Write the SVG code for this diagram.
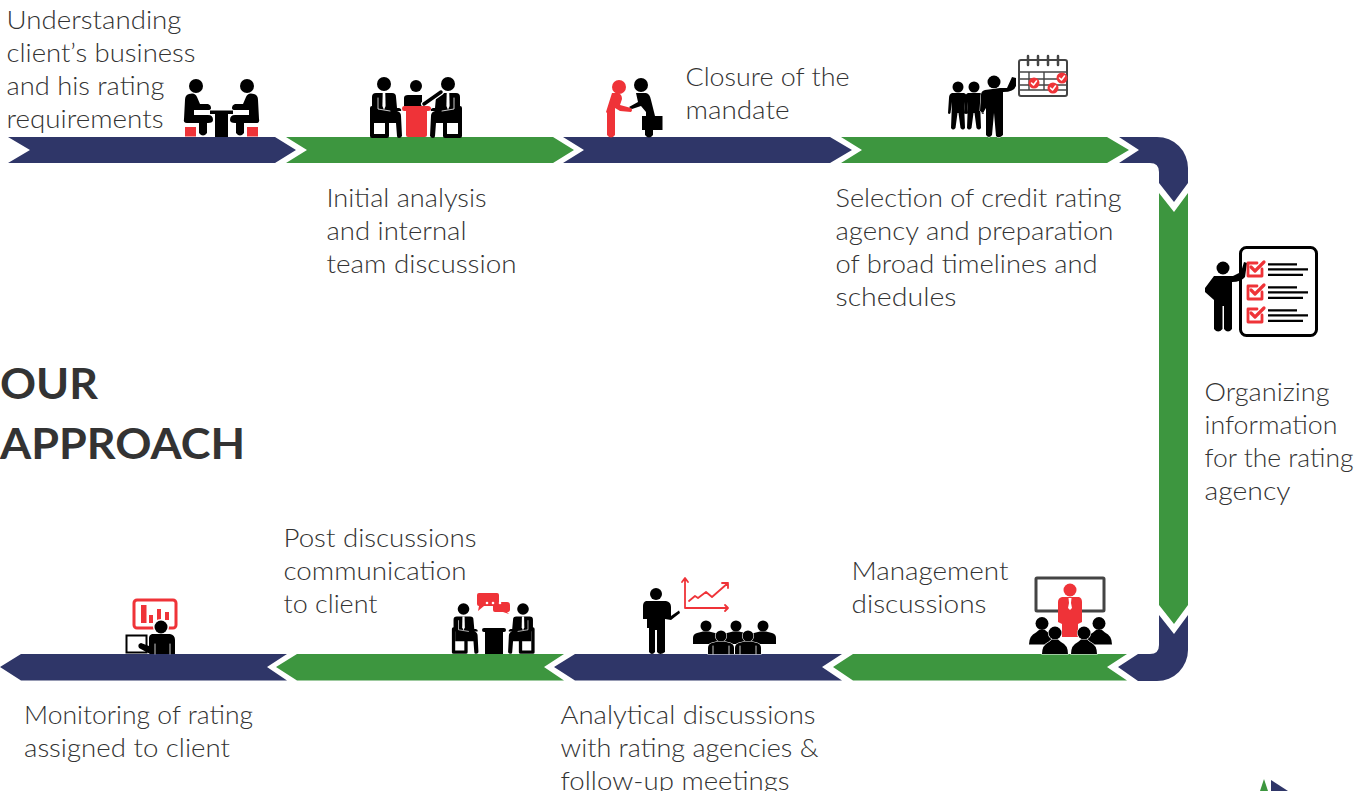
<svg xmlns="http://www.w3.org/2000/svg" xmlns:xlink="http://www.w3.org/1999/xlink" width="1368" height="791" viewBox="0 0 1368 791">
<style>
.n{fill:#2f3668}.g{fill:#3d963f}.r{fill:#ef3338}.k{fill:#000}.w{fill:#fff}
.sk{stroke:#000;fill:none;stroke-linecap:round;stroke-linejoin:round}
.sr{stroke:#ef3338;fill:none;stroke-linecap:round;stroke-linejoin:round}
.sw{stroke:#fff;fill:none;stroke-linecap:round;stroke-linejoin:round}
.o{stroke:#fff;stroke-width:1.200;paint-order:stroke}
text{font-family:"Lato","Open Sans","Liberation Sans",sans-serif;font-size:25px;font-weight:300;fill:#333}
.h{font-size:42px;font-weight:700;fill:#333}
</style>
<defs>
<g id="sit">
<circle cx="0" cy="0" r="7"/>
<path d="M-12 13Q-12 9-8 9H8Q12 9 12 13L13 24H15Q18 25 17 27L12 27H13Q17 28 17 32L18 52Q17 54 15 54Q13 54 13 52L12 39H-10V27Q-12 27-12 24Z"/>
<path class="sk" d="M-12 24V52H3V39" stroke-width="4"/>
<path class="w" d="M-1.300 9H1.300L1.600 22 0 26-1.600 22Z"/>
<path class="sw" d="M-6 14V25L6 27" stroke-width="0.800"/>
</g>
<g id="aud">
<circle cx="0" cy="0" r="6.500"/>
<path d="M-13 21Q-13 12-6 9L-3 6.500H3L6 9Q13 12 13 21Z"/>
</g>
<g id="aud2">
<circle cx="0" cy="0" r="5.500"/>
<path d="M-13 18V12Q-13 8-9 7L-3 5.500H3L9 7Q13 8 13 12V18Z"/>
</g>
<g id="st">
<circle cx="0" cy="0" r="5.500"/>
<path d="M-6 6H6Q9 7 9 11L10 26Q9 28 7.500 26L6 15 7 41Q5 44 2.500 41L0.500 26H-0.500L-2.500 41Q-5 44-7 41L-6 15-7.500 26Q-9 28-10 26L-9 11Q-9 7-6 6Z"/>
</g>
<g id="chk">
<path class="sr" d="M-7 -6H2M-7 -6V7H7V0" stroke-width="2.800"/>
<path class="sr" d="M-4 -2L0 2 9 -7" stroke-width="3.200"/>
<path class="k" d="M13 -5.800H42V-3.600H13ZM13 -0.800H53V1.400H13ZM13 4.800H48V7H13Z"/>
</g>
<g id="badge">
<circle r="5.500" class="r"/>
<path class="sw" d="M-2.500 0L-0.500 2 2.500 -2" stroke-width="1.600"/>
</g>
<path id="diner" d="M189 94Q195 92 197 97L200 104H208Q211 105 211 108Q211 110 208 110H194V115H208Q213 115 213 120Q213 123 208 123H207V133Q203 138 199 133V123H187Q183 123 184 119L185 100Q185 95 189 94Z"/>
</defs>

<g id="connectors">
<path class="n" d="M8 137H275L296 150 275 163H8L30 150Z"/>
<path class="g" d="M286 137H553L574 150 553 163H286L307 150Z"/>
<path class="n" d="M563 137H830L852 150 830 163H563L584 150Z"/>
<path class="g" d="M841 137H1107L1129 150 1107 163H841L862 150Z"/>
<path class="n" d="M1119 137H1157A31 31 0 0 1 1188 168V183L1174 202 1159 183V172Q1159 163 1150 163H1119L1139 150Z"/>
<path class="g" d="M1159 193L1174 212 1188 193V605L1174 624 1159 605Z"/>
<path class="n" d="M1159 615L1174 634 1188 615V650A31 31 0 0 1 1157 681H1138L1118 667 1138 654H1150Q1159 654 1159 645Z"/>
<path class="g" d="M1127 654L1107 667 1127 680.500H853L833 667 853 654Z"/>
<path class="n" d="M842 654L822 667 842 680.500H575L554 667 575 654Z"/>
<path class="g" d="M564 654L544 667 564 680.500H297L276 667 297 654Z"/>
<path class="n" d="M287 654L267 667 287 680.500H21L0 667 21 654Z"/>
<path class="g" d="M1264 779L1268 791H1260Z"/>
<path class="n" d="M1271 780L1288 791H1271Z"/>
</g>

<g id="step-1">
<circle cx="196" cy="86" r="7"/><circle cx="247" cy="86" r="7"/>
<use xlink:href="#diner" href="#diner"/>
<use xlink:href="#diner" href="#diner" transform="translate(443 0) scale(-1 1)"/>
<path d="M210 110.500H233V114H228V137H215V114H210Z"/>
<rect class="r" x="185" y="127" width="11" height="9.500"/><rect class="r" x="247" y="127" width="11" height="9.500"/>
<text x="6.500" y="29" textLength="175" lengthAdjust="spacingAndGlyphs">Understanding</text>
<text x="6.500" y="62" textLength="189" lengthAdjust="spacingAndGlyphs">client’s business</text>
<text x="6.500" y="95" textLength="158" lengthAdjust="spacingAndGlyphs">and his rating</text>
<text x="6.500" y="128" textLength="157" lengthAdjust="spacingAndGlyphs">requirements</text>
</g>

<g id="step-2">
<use xlink:href="#sit" href="#sit" x="384" y="84"/>
<use xlink:href="#sit" href="#sit" transform="translate(448 84) scale(-1 1)"/>
<circle cx="416" cy="86" r="6"/>
<path d="M404 106V98Q404 95 408 95H422V106Z"/>
<path d="M424 104L441 92" stroke="#fff" stroke-width="6" stroke-linecap="round"/>
<path d="M424 104L441 92" stroke="#000" stroke-width="3.500" stroke-linecap="round"/>
<path class="r" d="M404 106H428Q431 106 431 108.500Q431 111 428 111H427V135Q427 137 425 137H408Q406 137 406 135V111H404Q402 111 402 108.500Q402 106 404 106Z"/>
<text x="326.500" y="207" textLength="160" lengthAdjust="spacingAndGlyphs">Initial analysis</text>
<text x="326.500" y="240" textLength="140" lengthAdjust="spacingAndGlyphs">and internal</text>
<text x="326.500" y="273" textLength="190" lengthAdjust="spacingAndGlyphs">team discussion</text>
</g>

<g id="step-3">
<circle class="r" cx="619" cy="87" r="7"/>
<path class="r" d="M612 93H618Q622 94 622 99L620 105 631 108Q633 110 631 112L620 111 615 108V135Q611 140 607 135V113L606 112Z"/>
<circle cx="641" cy="85" r="7"/>
<path d="M636 93H646Q650 94 651 100L655 116H646V112L641 106 632 109 629 107 638 102Z"/>
<rect x="642" y="116" width="20.500" height="14"/>
<path d="M645 130H653V135Q649 140 645 135Z"/>
<text x="685.500" y="86" textLength="164" lengthAdjust="spacingAndGlyphs">Closure of the</text>
<text x="685.500" y="119" textLength="104" lengthAdjust="spacingAndGlyphs">mandate</text>
</g>

<g id="step-4">
<use xlink:href="#st" href="#st" x="958" y="87"/>
<use xlink:href="#st" href="#st" x="974" y="87"/>
<circle cx="994" cy="82" r="6.500"/>
<path d="M985 90L1000 88H1007L1012 77 1016 78 1016 86Q1014 92 1003 92V135Q999 139 996 136L994 113 992 135Q989 139 986 135V108L983 113 980 111 981 95Q981 91 985 90Z" stroke="#fff" stroke-width="1" paint-order="stroke"/>
<rect x="1019" y="60" width="48" height="36" rx="2" fill="#fff" stroke="#444" stroke-width="2"/>
<path d="M1028 56V65M1038 56V65M1048 56V65M1058 56V65" stroke="#444" stroke-width="2.500" stroke-linecap="round"/>
<path d="M1019 72H1067M1020 79H1066M1020 85H1066M1020 90H1066M1029 72V90M1044 72V90" stroke="#444" stroke-width="1.400" fill="none"/>
<use xlink:href="#badge" href="#badge" x="1034" y="83"/>
<use xlink:href="#badge" href="#badge" x="1053" y="88"/>
<use xlink:href="#badge" href="#badge" x="1062" y="78"/>
<text x="835.500" y="207" textLength="286" lengthAdjust="spacingAndGlyphs">Selection of credit rating</text>
<text x="835.500" y="240" textLength="278" lengthAdjust="spacingAndGlyphs">agency and preparation</text>
<text x="835.500" y="273" textLength="262" lengthAdjust="spacingAndGlyphs">of broad timelines and</text>
<text x="835.500" y="306" textLength="121" lengthAdjust="spacingAndGlyphs">schedules</text>
</g>

<g id="step-5">
<rect x="1240.500" y="247.500" width="76" height="88" rx="6" fill="#fff" stroke="#000" stroke-width="3"/>
<circle cx="1223" cy="268" r="6.500"/>
<path d="M1214 276H1233L1241 272 1244 262 1247 263 1245 277Q1241 282 1232 282V329Q1228 334 1224 329V306H1222.500V329Q1218 334 1214 329V300L1205 292V288Z"/>
<use xlink:href="#chk" href="#chk" x="1255" y="269"/>
<use xlink:href="#chk" href="#chk" x="1255" y="292"/>
<use xlink:href="#chk" href="#chk" x="1255" y="315"/>
<text x="1204.500" y="401" textLength="125" lengthAdjust="spacingAndGlyphs">Organizing</text>
<text x="1204.500" y="434" textLength="133" lengthAdjust="spacingAndGlyphs">information</text>
<text x="1204.500" y="467" textLength="149" lengthAdjust="spacingAndGlyphs">for the rating</text>
<text x="1204.500" y="500" textLength="86" lengthAdjust="spacingAndGlyphs">agency</text>
</g>

<g id="step-6">
<rect x="1036" y="578" width="68" height="33" rx="1" fill="#fff" stroke="#444" stroke-width="3"/>
<circle class="r" cx="1070" cy="590" r="6.500"/>
<path class="r" d="M1062 597L1066 597H1075L1079 597Q1082 598 1082 602V622L1078 624V637H1062V624L1058 622V602Q1058 598 1062 597Z"/>
<path class="w" d="M1068.500 598H1071.500L1071 603 1072 608 1070 610 1068 608 1069 603Z"/>
<use xlink:href="#aud" href="#aud" x="1042" y="623.500"/>
<use xlink:href="#aud" href="#aud" x="1099" y="623.500"/>
<use xlink:href="#aud" href="#aud" class="o" x="1055" y="633"/>
<use xlink:href="#aud" href="#aud" class="o" x="1084" y="633"/>
<text x="851.500" y="580" textLength="157" lengthAdjust="spacingAndGlyphs">Management</text>
<text x="851.500" y="613" textLength="135" lengthAdjust="spacingAndGlyphs">discussions</text>
</g>

<g id="step-7">
<circle cx="656" cy="594" r="6"/>
<path d="M646 601H666Q671 602 671 607V616L679 610.500 680 613 671 620 665 619V652Q660 656 657 652V630H655V652Q652 656 649 652V628H647V619H643V606Q643 602 646 601Z"/>
<path class="sr" d="M685 580V608H727M682 582L685 578 688 582M725 605L728 608 725 611M689 601L695 596 698 598 706 592 712 597 728 583M722 583H728V588" stroke-width="1.800"/>
<use xlink:href="#aud2" href="#aud2" x="706" y="626"/>
<use xlink:href="#aud2" href="#aud2" x="736" y="626"/>
<use xlink:href="#aud2" href="#aud2" x="763" y="626"/>
<use xlink:href="#aud2" href="#aud2" class="o" x="721" y="636"/>
<use xlink:href="#aud2" href="#aud2" class="o" x="748" y="636"/>
<path class="sw" d="M713 646V654M729 646V654M740 646V654M756 646V654" stroke-width="0.800"/>
<text x="560.500" y="724" textLength="255" lengthAdjust="spacingAndGlyphs">Analytical discussions</text>
<text x="560.500" y="757" textLength="258" lengthAdjust="spacingAndGlyphs">with rating agencies &amp;</text>
<text x="560.500" y="790" textLength="229" lengthAdjust="spacingAndGlyphs">follow-up meetings</text>
</g>

<g id="step-8">
<use xlink:href="#sit" href="#sit" transform="translate(463.500 609) scale(.83)"/>
<use xlink:href="#sit" href="#sit" transform="translate(523 609) scale(-.83 .83)"/>
<path d="M484 628H504Q506 628 506 630Q506 632 504 632H503V654H485V632H484Q482 632 482 630Q482 628 484 628Z"/>
<path class="r" d="M493 602H507Q510 602 510 605V610Q510 612 507 612L509 614 503 612H495Q493 612 493 610Z"/>
<path class="w" d="M492 600.500H500V604H492Z"/>
<path class="r" d="M479 593H497Q499 593 499 595V604Q499 606 497 606H484L478 611 479 606Q477 606 477 604V595Q477 593 479 593Z"/>
<circle class="w" cx="487" cy="603" r="1.300"/><circle class="w" cx="493" cy="603" r="1.300"/><circle class="w" cx="500" cy="603" r="1.300"/>
<text x="283.500" y="547" textLength="193" lengthAdjust="spacingAndGlyphs">Post discussions</text>
<text x="283.500" y="580" textLength="183" lengthAdjust="spacingAndGlyphs">communication</text>
<text x="283.500" y="613" textLength="94" lengthAdjust="spacingAndGlyphs">to client</text>
</g>

<g id="step-9">
<rect x="134" y="600" width="42" height="28" rx="3" fill="#fff" stroke="#ef3338" stroke-width="3"/>
<path class="r" d="M141 605H146.500V623H141ZM149 615H153V623H149ZM157 609H161V620H157ZM165 612H169V620H165Z"/>
<circle cx="161" cy="627" r="8" fill="#fff"/><circle cx="161" cy="627" r="6.500"/>
<rect x="126.500" y="635.500" width="20" height="17" fill="#fff" stroke="#000" stroke-width="2"/>
<path d="M152 634H170Q175 635 175 640V654H150L139 648Q137 644 141 643L149 646V638Q149 635 152 634Z"/>
<path class="sw" d="M155 644V654M170 644V654" stroke-width="0.800"/>
<text x="24" y="724" textLength="229" lengthAdjust="spacingAndGlyphs">Monitoring of rating</text>
<text x="24" y="757" textLength="206" lengthAdjust="spacingAndGlyphs">assigned to client</text>
</g>

<g id="title">
<text class="h" x="0" y="399" textLength="98" lengthAdjust="spacingAndGlyphs">OUR</text>
<text class="h" x="0" y="459" textLength="245" lengthAdjust="spacingAndGlyphs">APPROACH</text>
</g>
</svg>
